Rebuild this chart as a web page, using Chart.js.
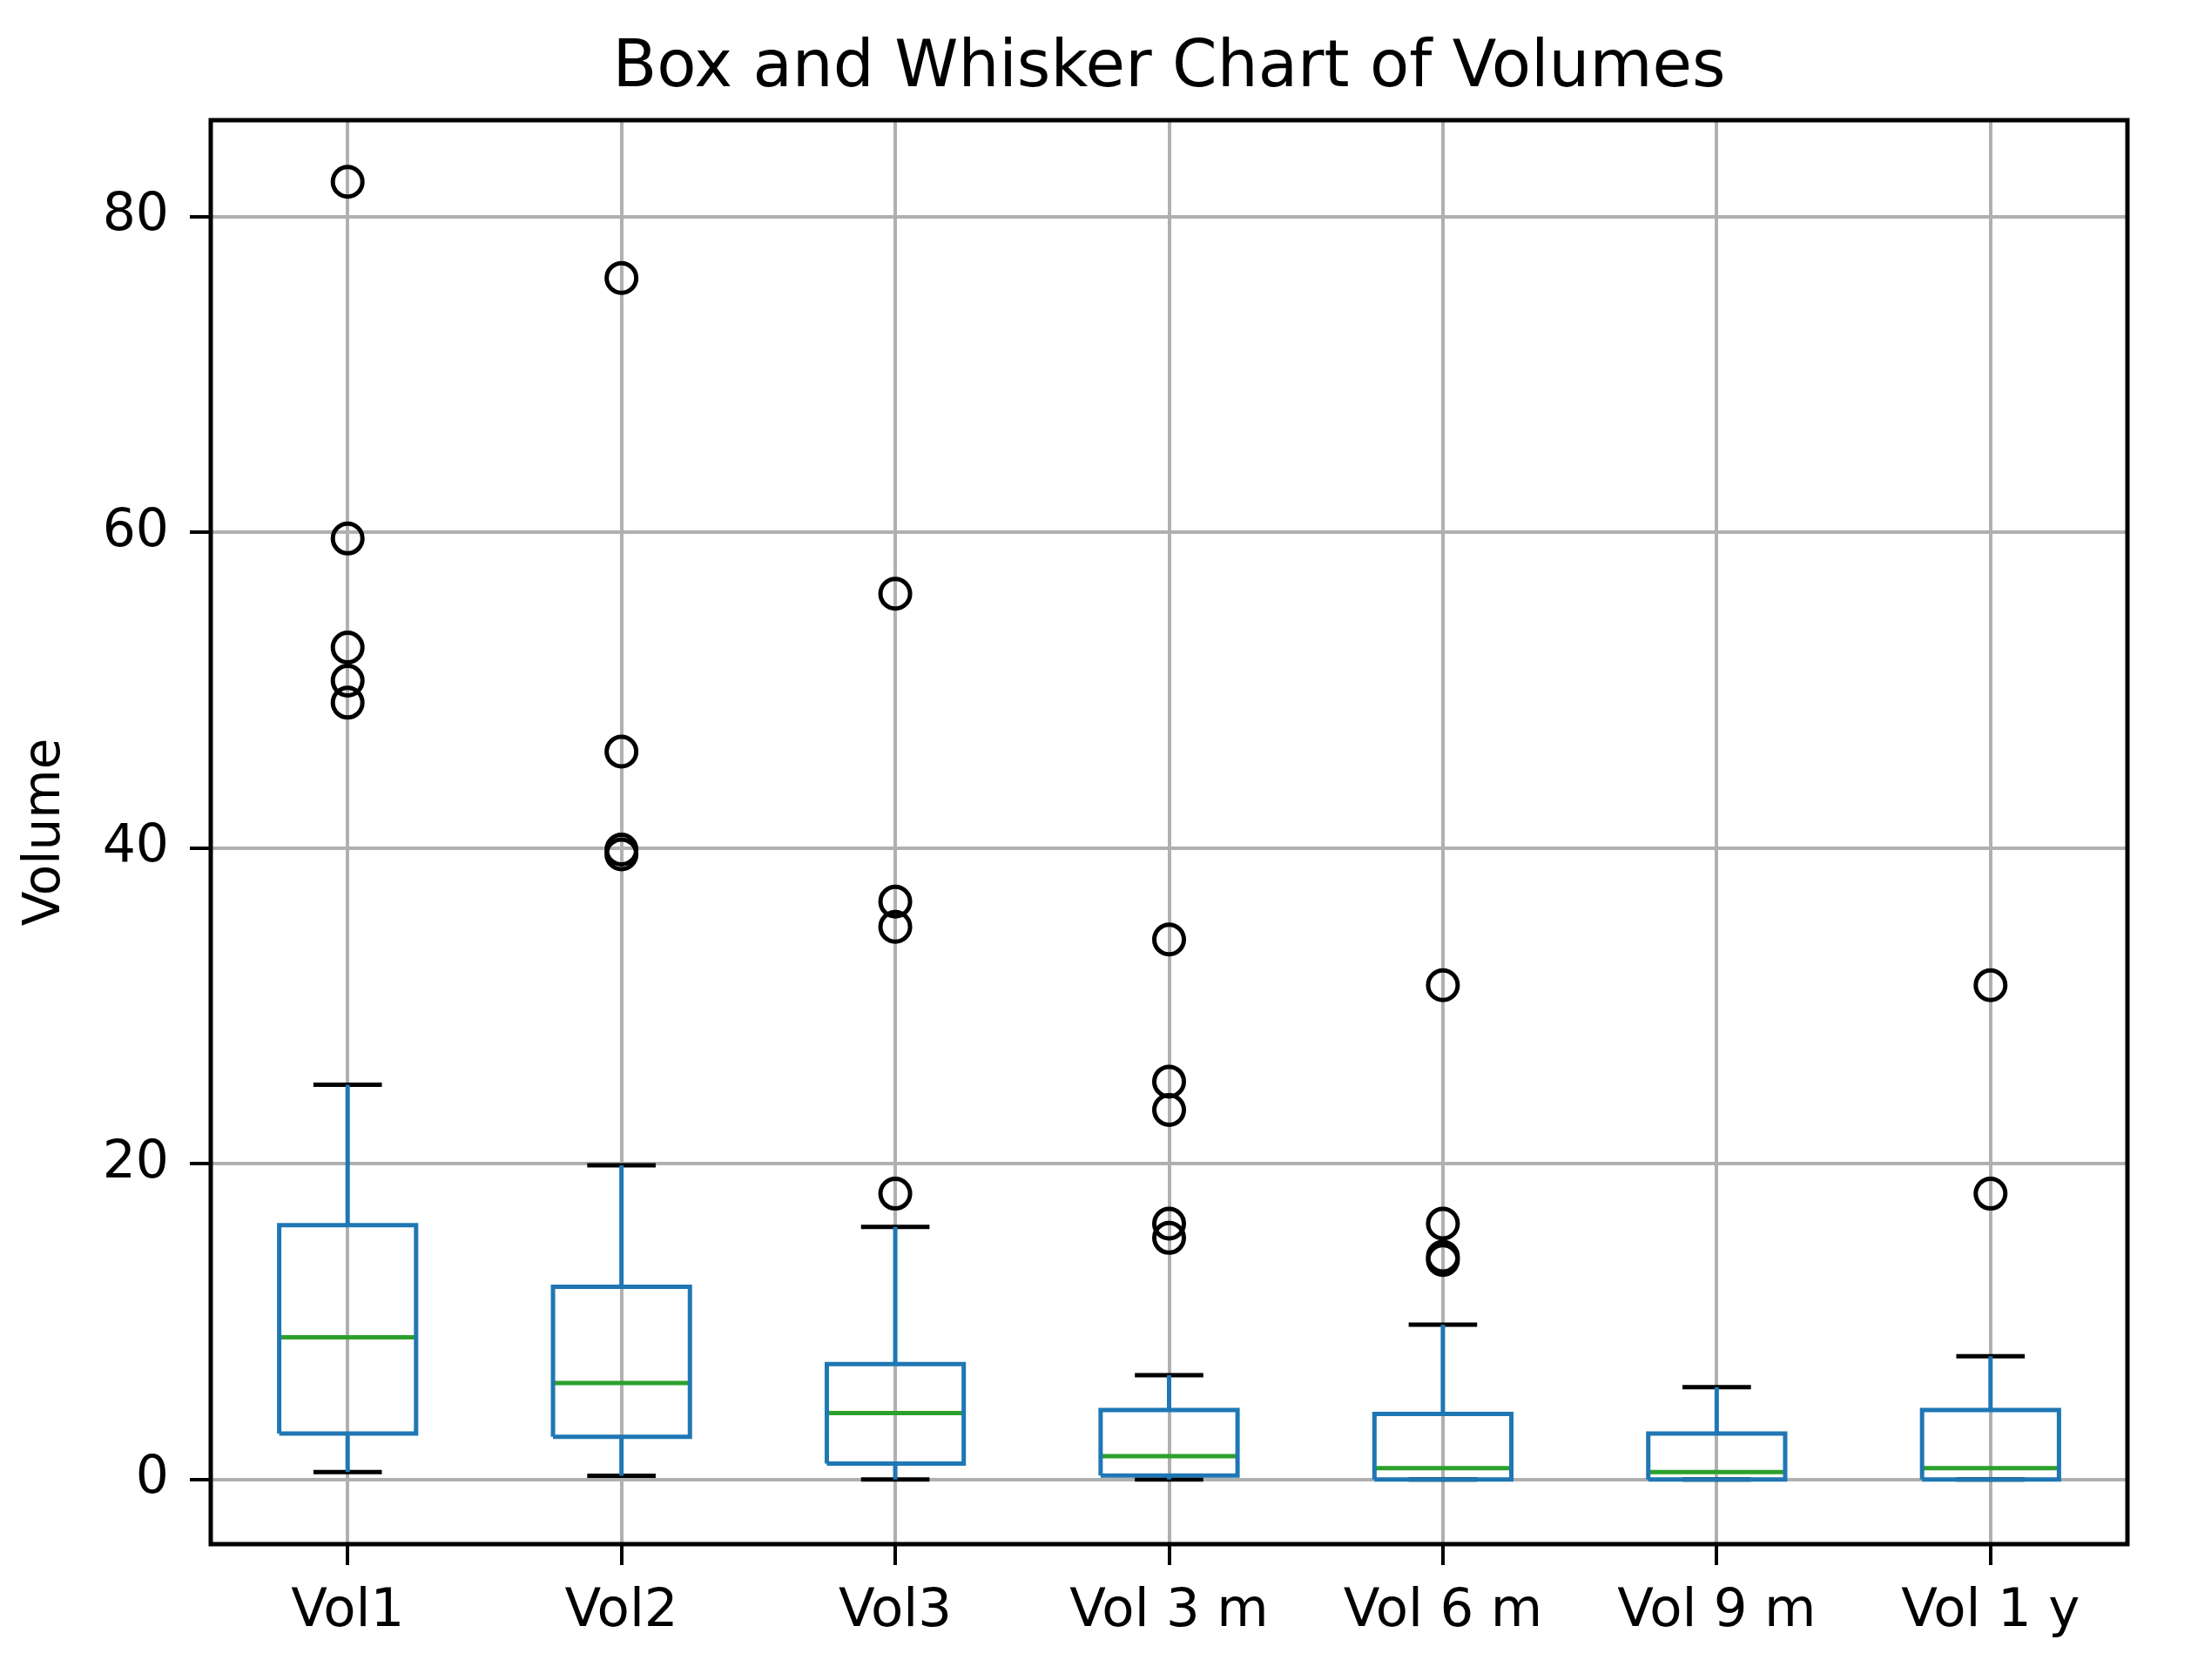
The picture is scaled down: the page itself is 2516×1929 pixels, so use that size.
<!DOCTYPE html>
<html>
<head>
<meta charset="utf-8">
<script src="https://cdn.jsdelivr.net/npm/chart.js@4/dist/chart.umd.min.js"></script>
<style>
  html, body { margin: 0; padding: 0; background: #fff; }
  #wrap { width: 2516px; height: 1929px; }
</style>
</head>
<body>
<div id="wrap"><canvas id="chBox" width="2516" height="1929"></canvas></div>
<script>
// box and whisker of volumes

const categories = ['Vol1', 'Vol2', 'Vol3', 'Vol 3 m', 'Vol 6 m', 'Vol 9 m', 'Vol 1 y'];
const whiskerLow  = [0.46, 0.23, 0, 0, 0, 0, 0];
const q1          = [2.9, 2.7, 1.0, 0.25, 0, 0, 0];
const medians     = [9.0, 6.1, 4.2, 1.47, 0.72, 0.46, 0.72];
const q3          = [16.1, 12.2, 7.3, 4.4, 4.15, 2.9, 4.4];
const whiskerHigh = [25.0, 19.9, 16.0, 6.6, 9.8, 5.85, 7.8];
const outliers = [
    [82.2, 59.6, 52.7, 50.6, 49.2],
    [76.1, 46.1, 39.9, 39.6],
    [56.1, 36.6, 35.0, 18.1],
    [34.2, 25.2, 23.4, 16.2, 15.3],
    [31.3, 16.2, 14.1, 13.9],
    [],
    [31.3, 18.1]
];
const yTicks = [0, 20, 40, 60, 80];
const chartTitle = 'Box and Whisker Chart of Volumes';

const BLUE = '#1f77b4';
const GREEN = '#2ca02c';
const GRID = '#b0b0b0';
const boxHalf = 0.25;
const capHalf = 0.125;

// build line paths, a null y breaks the line between pieces
let boxPts = [], whiskerPts = [], capPts = [], medianPts = [], outlierPts = [];
categories.forEach((c, k) => {
    const x = k + 1;
    boxPts.push(
        { x: x - boxHalf, y: q1[k] }, { x: x + boxHalf, y: q1[k] },
        { x: x + boxHalf, y: q3[k] }, { x: x - boxHalf, y: q3[k] },
        { x: x - boxHalf, y: q1[k] }, { x: x, y: null }
    );
    whiskerPts.push(
        { x: x, y: q1[k] }, { x: x, y: whiskerLow[k] }, { x: x, y: null },
        { x: x, y: q3[k] }, { x: x, y: whiskerHigh[k] }, { x: x, y: null }
    );
    capPts.push(
        { x: x - capHalf, y: whiskerLow[k] }, { x: x + capHalf, y: whiskerLow[k] }, { x: x, y: null },
        { x: x - capHalf, y: whiskerHigh[k] }, { x: x + capHalf, y: whiskerHigh[k] }, { x: x, y: null }
    );
    medianPts.push({ x: x - boxHalf, y: medians[k] }, { x: x + boxHalf, y: medians[k] }, { x: x, y: null });
    outliers[k].forEach(v => outlierPts.push({ x: x, y: v }));
});

function lineSet(data, color) {
    return {
        data: data,
        showLine: true,
        spanGaps: false,
        borderColor: color,
        borderWidth: 5,
        borderJoinStyle: 'miter',
        borderCapStyle: 'butt',
        pointRadius: 0,
        pointHoverRadius: 0,
        fill: false
    };
}

// all four spines on top of the data, title centred over the plot area
const frame = {
    id: 'frame',
    afterDatasetsDraw(chart) {
        const a = chart.chartArea, ctx = chart.ctx;
        ctx.save();
        ctx.strokeStyle = '#000';
        ctx.lineWidth = 5;
        ctx.strokeRect(a.left, a.top, a.right - a.left, a.bottom - a.top);
        ctx.fillStyle = '#000';
        ctx.font = "74px 'DejaVu Sans', sans-serif";
        ctx.textAlign = 'center';
        ctx.textBaseline = 'alphabetic';
        ctx.fillText(chartTitle, (a.left + a.right) / 2, a.top - 39);
        ctx.restore();
    }
};

Chart.defaults.font.family = "'DejaVu Sans', sans-serif";
Chart.defaults.color = '#000';

new Chart(document.getElementById('chBox').getContext('2d'), {
    type: 'scatter',
    data: {
        datasets: [
            lineSet(boxPts, BLUE),
            lineSet(whiskerPts, BLUE),
            lineSet(capPts, '#000'),
            lineSet(medianPts, GREEN),
            {
                data: outlierPts,
                showLine: false,
                pointStyle: 'circle',
                pointRadius: 17,
                pointHoverRadius: 17,
                pointBorderWidth: 5,
                pointBorderColor: '#000',
                pointBackgroundColor: 'rgba(0,0,0,0)'
            }
        ]
    },
    options: {
        responsive: false,
        devicePixelRatio: 1,
        animation: false,
        events: [],
        layout: { padding: { left: 0, right: 73, top: 138, bottom: 0 } },
        scales: {
            x: {
                type: 'linear',
                min: 0.5,
                max: 7.5,
                afterBuildTicks: s => { s.ticks = categories.map((c, k) => ({ value: k + 1 })); },
                afterFit: s => { s.height = 156; },
                border: { display: false },
                grid: { color: GRID, lineWidth: 4, tickColor: '#000', tickLength: 24, tickWidth: 4 },
                ticks: {
                    autoSkip: false,
                    maxRotation: 0,
                    padding: 18,
                    font: { size: 61 },
                    callback: v => categories[Math.round(v) - 1]
                }
            },
            y: {
                min: -4.1,
                max: 86.1,
                afterBuildTicks: s => { s.ticks = yTicks.map(v => ({ value: v })); },
                afterFit: s => { s.width = 242; },
                border: { display: false },
                grid: { color: GRID, lineWidth: 4, tickColor: '#000', tickLength: 24, tickWidth: 4 },
                ticks: { padding: 24, font: { size: 60 } },
                title: { display: true, text: 'Volume', font: { size: 58 }, padding: { top: 18, bottom: 0 } }
            }
        },
        plugins: {
            legend: { display: false },
            tooltip: { enabled: false },
            title: { display: false }
        }
    },
    plugins: [frame]
});
</script>
</body>
</html>
